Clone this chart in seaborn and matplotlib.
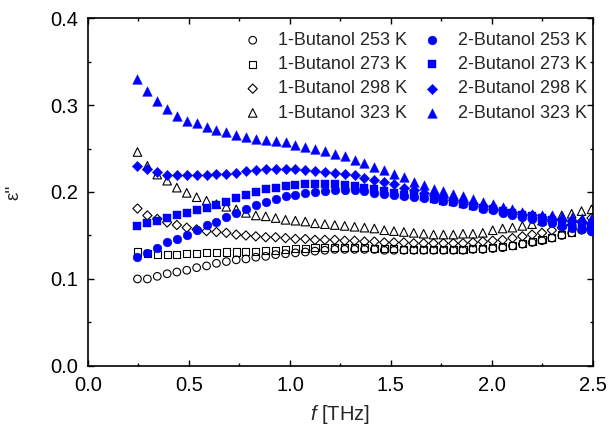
import numpy as np
import pandas as pd
import matplotlib
matplotlib.use("Agg")
import matplotlib.pyplot as plt
from matplotlib.ticker import MultipleLocator, FormatStrFormatter
import seaborn as sns

# Frequency grid (THz)
freq = [0.245, 0.294, 0.343, 0.392, 0.440, 0.489, 0.538, 0.587, 0.636, 0.685,
        0.734, 0.782, 0.831, 0.880, 0.929, 0.978, 1.027, 1.076, 1.124, 1.173,
        1.222, 1.271, 1.320, 1.369, 1.418, 1.467, 1.515, 1.564, 1.613, 1.662,
        1.711, 1.760, 1.809, 1.857, 1.906, 1.955, 2.004, 2.053, 2.102, 2.151,
        2.199, 2.248, 2.297, 2.346, 2.395, 2.444, 2.493]

# Dielectric loss, 1-butanol
b1_253 = [0.100, 0.100, 0.103, 0.106, 0.108, 0.110, 0.113, 0.115, 0.118, 0.120,
          0.122, 0.123, 0.125, 0.126, 0.128, 0.129, 0.130, 0.131, 0.132, 0.133,
          0.134, 0.134, 0.134, 0.134, 0.134, 0.133, 0.133, 0.133, 0.133, 0.133,
          0.133, 0.133, 0.133, 0.133, 0.134, 0.134, 0.135, 0.136, 0.138, 0.140,
          0.142, 0.144, 0.147, 0.150, 0.153, 0.156, 0.160]
b1_273 = [0.131, 0.129, 0.128, 0.128, 0.128, 0.129, 0.129, 0.130, 0.130, 0.131,
          0.131, 0.132, 0.132, 0.133, 0.133, 0.134, 0.135, 0.135, 0.136, 0.136,
          0.136, 0.136, 0.136, 0.136, 0.135, 0.135, 0.135, 0.134, 0.134, 0.134,
          0.134, 0.134, 0.134, 0.134, 0.135, 0.135, 0.136, 0.137, 0.139, 0.141,
          0.143, 0.145, 0.148, 0.151, 0.154, 0.158, 0.162]
b1_298 = [0.181, 0.173, 0.169, 0.165, 0.162, 0.159, 0.157, 0.155, 0.154, 0.153,
          0.151, 0.150, 0.149, 0.148, 0.148, 0.147, 0.146, 0.146, 0.145, 0.145,
          0.145, 0.144, 0.144, 0.143, 0.143, 0.142, 0.142, 0.142, 0.141, 0.141,
          0.141, 0.141, 0.141, 0.141, 0.142, 0.143, 0.144, 0.145, 0.147, 0.149,
          0.151, 0.153, 0.156, 0.159, 0.162, 0.166, 0.170]
b1_323 = [0.246, 0.230, 0.220, 0.213, 0.205, 0.199, 0.194, 0.190, 0.186, 0.183,
          0.180, 0.176, 0.173, 0.172, 0.170, 0.168, 0.167, 0.166, 0.164, 0.163,
          0.162, 0.161, 0.160, 0.159, 0.158, 0.156, 0.155, 0.154, 0.153, 0.152,
          0.151, 0.151, 0.151, 0.152, 0.152, 0.153, 0.156, 0.158, 0.159, 0.161,
          0.163, 0.167, 0.171, 0.173, 0.175, 0.178, 0.180]

# Dielectric loss, 2-butanol
b2_253 = [0.125, 0.130, 0.136, 0.142, 0.146, 0.151, 0.156, 0.162, 0.166, 0.171,
          0.176, 0.181, 0.185, 0.188, 0.192, 0.195, 0.197, 0.199, 0.200, 0.201,
          0.202, 0.202, 0.202, 0.201, 0.199, 0.198, 0.196, 0.195, 0.194, 0.193,
          0.192, 0.190, 0.188, 0.186, 0.184, 0.181, 0.179, 0.176, 0.174, 0.171,
          0.169, 0.166, 0.164, 0.161, 0.159, 0.157, 0.155]
b2_273 = [0.161, 0.164, 0.167, 0.170, 0.173, 0.176, 0.179, 0.182, 0.185, 0.189,
          0.193, 0.196, 0.200, 0.203, 0.205, 0.207, 0.208, 0.209, 0.209, 0.209,
          0.209, 0.208, 0.207, 0.205, 0.203, 0.201, 0.199, 0.197, 0.196, 0.194,
          0.192, 0.190, 0.188, 0.186, 0.184, 0.182, 0.180, 0.178, 0.176, 0.174,
          0.172, 0.170, 0.168, 0.166, 0.164, 0.162, 0.160]
b2_298 = [0.230, 0.226, 0.223, 0.220, 0.219, 0.219, 0.219, 0.220, 0.221, 0.221,
          0.222, 0.224, 0.225, 0.226, 0.226, 0.226, 0.226, 0.225, 0.224, 0.223,
          0.222, 0.221, 0.219, 0.216, 0.214, 0.211, 0.209, 0.205, 0.202, 0.199,
          0.197, 0.194, 0.191, 0.189, 0.186, 0.184, 0.181, 0.179, 0.177, 0.175,
          0.173, 0.171, 0.169, 0.168, 0.167, 0.165, 0.164]
b2_323 = [0.330, 0.316, 0.305, 0.295, 0.287, 0.282, 0.279, 0.275, 0.271, 0.269,
          0.266, 0.263, 0.261, 0.260, 0.259, 0.257, 0.254, 0.252, 0.249, 0.247,
          0.244, 0.241, 0.237, 0.233, 0.229, 0.225, 0.221, 0.217, 0.212, 0.208,
          0.204, 0.201, 0.198, 0.195, 0.192, 0.189, 0.186, 0.183, 0.180, 0.177,
          0.175, 0.174, 0.173, 0.172, 0.171, 0.170, 0.169]

labels = ["1-Butanol 253 K", "1-Butanol 273 K", "1-Butanol 298 K", "1-Butanol 323 K",
          "2-Butanol 253 K", "2-Butanol 273 K", "2-Butanol 298 K", "2-Butanol 323 K"]
series = [b1_253, b1_273, b1_298, b1_323, b2_253, b2_273, b2_298, b2_323]
markers = ["o", "s", "D", "^", "o", "s", "D", "^"]
sizes = [30, 26, 22, 38, 40, 32, 28, 48]

sns.set_style("ticks")
plt.rcParams["font.family"] = ["Liberation Sans", "DejaVu Sans"]
plt.rcParams["mathtext.fontset"] = "custom"
plt.rcParams["mathtext.it"] = "Liberation Sans:italic"
plt.rcParams["mathtext.rm"] = "Liberation Sans"

fig = plt.figure(figsize=(6.09, 4.30), dpi=100)
ax = fig.add_axes([0.1445, 0.149, 0.829, 0.809])

for lab, vals, mk, sz in zip(labels, series, markers, sizes):
    df = pd.DataFrame({"f": freq, "eps": vals})
    if lab.startswith("1-"):
        sns.scatterplot(data=df, x="f", y="eps", marker=mk, s=sz, ax=ax,
                        facecolor="none", edgecolor="black", linewidth=0.8,
                        label=lab, zorder=3)
    else:
        sns.scatterplot(data=df, x="f", y="eps", marker=mk, s=sz, ax=ax,
                        color="#0000ff", edgecolor="#0000ff", linewidth=0.3,
                        label=lab, zorder=3)

ax.set_xlim(0, 2.5)
ax.set_ylim(0, 0.4)
ax.xaxis.set_major_locator(MultipleLocator(0.5))
ax.xaxis.set_minor_locator(MultipleLocator(0.25))
ax.yaxis.set_major_locator(MultipleLocator(0.1))
ax.yaxis.set_minor_locator(MultipleLocator(0.05))
ax.xaxis.set_major_formatter(FormatStrFormatter("%.1f"))
ax.yaxis.set_major_formatter(FormatStrFormatter("%.1f"))
ax.tick_params(which="both", direction="in", top=True, right=True,
               labelsize=14.5, width=1.0, color="black", labelcolor="black")
ax.tick_params(which="major", length=4.5, pad=7)
ax.tick_params(which="minor", length=2.5)
for sp in ax.spines.values():
    sp.set_linewidth(1.2)
    sp.set_color("black")

ax.set_xlabel("$f$ [THz]", fontsize=14.5, labelpad=6)
ax.set_ylabel("ε''", fontsize=13.5, labelpad=20)

ax.legend(ncol=2, loc="upper right", bbox_to_anchor=(0.988, 0.960), frameon=False,
          fontsize=13, handlelength=1.0, handletextpad=0.9,
          columnspacing=0.9, labelspacing=0.40, borderaxespad=0.0, borderpad=0.0)

fig.savefig("out.png", dpi=100)
